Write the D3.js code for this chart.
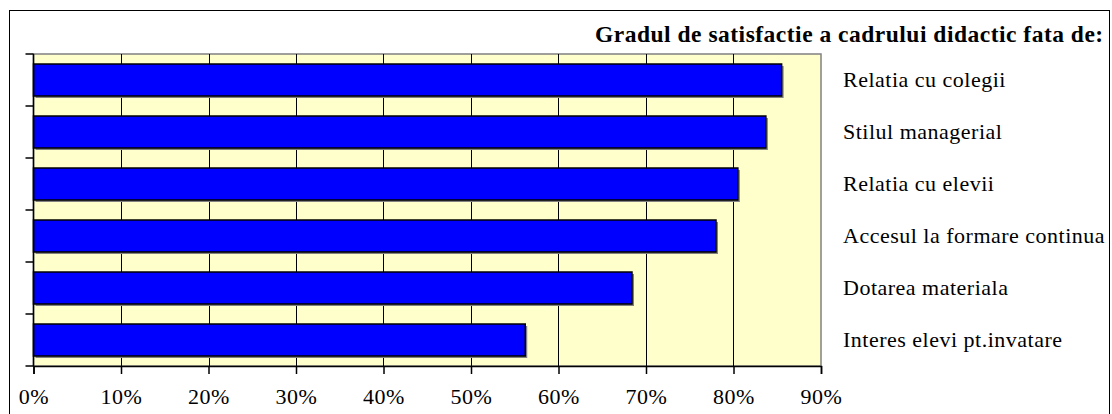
<!DOCTYPE html>
<html>
<head>
<meta charset="utf-8">
<script src="https://cdn.jsdelivr.net/npm/d3@7"></script>
<style>
    body{margin:0;background:#fff;}
    text{font-family:"Liberation Serif","Times New Roman",serif;fill:#000;}
</style>
</head>
<body>
<svg id="chart" width="1112" height="414"></svg>
<script>
// -- data
var categories = ["Relatia cu colegii","Stilul managerial","Relatia cu elevii","Accesul la formare continua","Dotarea materiala","Interes elevi pt.invatare"];
var values = [85.5, 83.7, 80.5, 78.0, 68.4, 56.2];
var tickValues = [0,10,20,30,40,50,60,70,80,90];
var title = "Gradul de satisfactie a cadrului didactic fata de:";

var svg = d3.select("#chart");

var plot = {left:33.5, top:54, right:821, bottom:366};

var x = d3.scaleLinear().domain([0,90]).range([plot.left, plot.right]);
var y = d3.scaleBand().domain(categories).range([plot.top, plot.bottom])
    .paddingInner(0.385).paddingOuter(0.1925);

// -- outer frame + clip
svg.append("clipPath").attr("id","frameClip").append("rect")
    .attr("x",9).attr("y",10).attr("width",1100).attr("height",420);

svg.append("rect")
    .attr("x",9.5).attr("y",10.5).attr("width",1100).attr("height",420)
    .style("fill","#fff").style("stroke","#000").style("stroke-width",1);

var g = svg.append("g").attr("clip-path","url(#frameClip)");

// -- plot background
g.append("rect")
    .attr("x",plot.left).attr("y",plot.top)
    .attr("width",plot.right-plot.left).attr("height",plot.bottom-plot.top)
    .style("fill","#FFFFCC").style("stroke","#808080").style("stroke-width",1.5);

// -- vertical grid lines
g.selectAll(".grid").data(tickValues.filter(function(d){return d>0 && d<90;}))
    .enter().append("line").attr("class","grid")
    .attr("x1",function(d){return Math.round(x(d))+0.5;})
    .attr("x2",function(d){return Math.round(x(d))+0.5;})
    .attr("y1",plot.top).attr("y2",plot.bottom)
    .style("stroke","#000").style("stroke-width",1);

// -- bars (shadow first, then the bar)
var bars = g.selectAll(".bar").data(categories).enter().append("g").attr("class","bar");

bars.append("rect")
    .attr("x",x(0)+2)
    .attr("y",function(d){return y(d)+2;})
    .attr("width",function(d,i){return x(values[i])-x(0);})
    .attr("height",y.bandwidth())
    .style("fill","#808080");

bars.append("rect")
    .attr("x",x(0))
    .attr("y",function(d){return y(d);})
    .attr("width",function(d,i){return x(values[i])-x(0);})
    .attr("height",y.bandwidth())
    .style("fill","#0000FF").style("stroke","#000").style("stroke-width",1.5);

// -- axes
var xAxis = d3.axisBottom(x).tickValues(tickValues).tickSize(8)
    .tickFormat(function(d){return d+"%";});
var xg = g.append("g").attr("transform","translate(0,"+plot.bottom+")").call(xAxis);
xg.select(".domain").style("stroke","#000").style("stroke-width",1.5);
xg.selectAll(".tick line").style("stroke","#000").style("stroke-width",1.5);
xg.selectAll(".tick text")
    .attr("y",38).attr("dy",0)
    .style("font-family","'Liberation Serif','Times New Roman',serif")
    .style("font-size","22px").style("letter-spacing","0.5px").style("fill","#000");

// y axis: ticks sit on band boundaries, no labels
var bounds = categories.map(function(d){return y(d)-y.step()*y.paddingInner()/2;});
bounds.push(plot.bottom);
var yg = g.append("g");
yg.append("line")
    .attr("x1",plot.left).attr("x2",plot.left)
    .attr("y1",plot.top).attr("y2",plot.bottom)
    .style("stroke","#000").style("stroke-width",1.5);
yg.selectAll(".ytick").data(bounds).enter().append("line").attr("class","ytick")
    .attr("x1",plot.left-8).attr("x2",plot.left)
    .attr("y1",function(d){return Math.round(d);})
    .attr("y2",function(d){return Math.round(d);})
    .style("stroke","#000").style("stroke-width",1.5);

// -- category labels on the right
g.selectAll(".catLabel").data(categories).enter().append("text").attr("class","catLabel")
    .attr("x",843)
    .attr("y",function(d){return y(d)+y.bandwidth()/2;})
    .attr("dy","0.33em")
    .style("font-size","22px").style("letter-spacing","0.5px")
    .text(function(d){return d;});

// -- title
g.append("text")
    .attr("x",595).attr("y",42)
    .style("font-size","23.5px").style("font-weight","bold").style("letter-spacing","0.5px")
    .text(title);
</script>
</body>
</html>
